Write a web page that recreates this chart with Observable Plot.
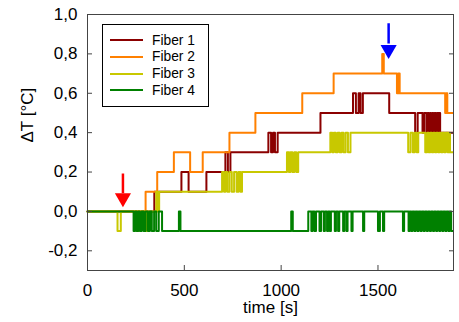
<!DOCTYPE html>
<html><head><meta charset="utf-8">
<script src="https://cdn.jsdelivr.net/npm/d3@7"></script>
<script src="https://cdn.jsdelivr.net/npm/@observablehq/plot@0.6"></script>
<style>
body{margin:0;background:#fff;}
#wrap{position:relative;width:459px;height:322px;font-family:"Liberation Sans",Arial,sans-serif;}
#legend{position:absolute;left:102px;top:24px;width:105px;height:81px;border:1px solid #000;background:#fff;}
.row{position:absolute;left:7px;height:16px;display:flex;align-items:center;font-size:13.8px;color:#000;}
.sw{width:33px;height:2px;margin-right:9px;}
</style></head><body><div id="wrap"></div>
<script>
const fiberNames = ["Fiber 1", "Fiber 2", "Fiber 3", "Fiber 4"];
const fiberColors = ["#8b0000", "#ff8000", "#c8c800", "#008000"];
const xTicks = [0, 500, 1000, 1500];
const yTicks = [-0.2, 0, 0.2, 0.4, 0.6, 0.8, 1.0];

// [time s, ΔT °C] change points (value holds until next point)
const fiber1 = [[0,0],[345,0.1],[485,0.2],[522,0.1],[614,0.2],[712,0.3],[725,0.2],[738,0.3],[934,0.4],[948,0.3],[958,0.4],[968,0.3],[982,0.4],[1203,0.5],[1371,0.6],[1386,0.5],[1400,0.6],[1410,0.5],[1422,0.6],[1558,0.5],[1692,0.4],[1705,0.5],[1730,0.4],[1738,0.5],[1750,0.4],[1756,0.5],[1762,0.4],[1768,0.5],[1774,0.4],[1780,0.5],[1786,0.4],[1792,0.5],[1798,0.4],[1804,0.5],[1812,0.4],[1816,0.5],[1821,0.4],[1888,0.4]];
const fiber2 = [[0,0],[300,0.1],[360,0.2],[446,0.3],[530,0.2],[595,0.3],[733,0.4],[867,0.5],[1109,0.6],[1271,0.7],[1522,0.8],[1530,0.7],[1598,0.6],[1605,0.7],[1612,0.6],[1847,0.5],[1852,0.6],[1858,0.5],[1888,0.5]];
const fiber3 = [[0,0],[155,-0.1],[172,0],[255,-0.1],[262,0],[300,-0.1],[306,0],[355,0.1],[362,0],[370,0.1],[695,0.2],[705,0.1],[712,0.2],[722,0.1],[733,0.2],[745,0.1],[757,0.2],[770,0.1],[780,0.2],[790,0.1],[798,0.2],[1030,0.3],[1040,0.2],[1048,0.3],[1058,0.2],[1068,0.3],[1078,0.2],[1088,0.3],[1254,0.4],[1264,0.3],[1272,0.4],[1282,0.3],[1292,0.4],[1302,0.3],[1312,0.4],[1322,0.3],[1333,0.4],[1345,0.3],[1358,0.4],[1656,0.3],[1668,0.4],[1680,0.3],[1690,0.4],[1700,0.3],[1708,0.4],[1744,0.3],[1754,0.4],[1762,0.3],[1770,0.4],[1778,0.3],[1786,0.4],[1794,0.3],[1802,0.4],[1810,0.3],[1818,0.4],[1826,0.3],[1834,0.4],[1842,0.3],[1850,0.4],[1860,0.3],[1866,0.4],[1872,0.3],[1888,0.3]];
const fiber4 = [[0,0],[238,-0.1],[246,0],[254,-0.1],[262,0],[270,-0.1],[280,0],[290,-0.1],[300,0],[312,-0.1],[322,0],[332,-0.1],[344,0],[355,-0.1],[368,0],[385,-0.1],[472,0],[480,-0.1],[1052,0],[1060,-0.1],[1140,0],[1156,-0.1],[1162,0],[1172,-0.1],[1180,0],[1198,-0.1],[1206,0],[1220,-0.1],[1226,0],[1237,-0.1],[1243,0],[1251,-0.1],[1257,0],[1277,-0.1],[1283,0],[1294,-0.1],[1300,0],[1320,-0.1],[1326,0],[1337,-0.1],[1343,0],[1363,-0.1],[1369,0],[1423,-0.1],[1429,0],[1500,-0.1],[1510,0],[1526,-0.1],[1532,0],[1629,-0.1],[1635,0],[1658,-0.1],[1664,0],[1672,-0.1],[1678,0],[1688,-0.1],[1694,0],[1704,-0.1],[1710,0],[1720,-0.1],[1726,0],[1736,-0.1],[1742,0],[1752,-0.1],[1758,0],[1768,-0.1],[1774,0],[1784,-0.1],[1790,0],[1800,-0.1],[1806,0],[1816,-0.1],[1822,0],[1832,-0.1],[1838,0],[1848,-0.1],[1854,0],[1864,-0.1],[1870,0],[1878,-0.1],[1888,-0.1]];
const fibers = [fiber1, fiber2, fiber3, fiber4];

// arrows: time, shaft top, shaft bottom (head base), head centre
const arrowTime = [183, 1555];
const arrowTop = [0.19, 0.953];
const arrowBase = [0.09, 0.85];
const arrowHead = [0.068, 0.822];
const arrowColors = ["#ff0000", "#0000ff"];

const fmtY = d => d.toFixed(1).replace(".", ",");
const frameColor = "#444";

const lineMarks = fibers.map((f, i) => Plot.line(f, {
  x: d => d[0], y: d => d[1], curve: "step-after",
  stroke: fiberColors[i], strokeWidth: 2
}));

const arrowMarks = arrowTime.map((t, i) => {
  const a = [{t, top: arrowTop[i], base: arrowBase[i], head: arrowHead[i]}];
  return [
    Plot.ruleX(a, {x: "t", y1: "top", y2: "base", stroke: arrowColors[i], strokeWidth: 2.5}),
    Plot.dot(a, {x: "t", y: "head", symbol: "triangle", rotate: 180, r: 6, fill: arrowColors[i], stroke: "none"})
  ];
});

const chart = Plot.plot({
  width: 459, height: 322,
  marginLeft: 87, marginRight: 6, marginTop: 14, marginBottom: 52,
  style: {fontFamily: '"Liberation Sans", Arial, sans-serif', fontSize: "17px", color: "#000", background: "#fff"},
  x: {domain: [0, 1890]},
  y: {domain: [-0.3, 1.0]},
  marks: [
    ...lineMarks,
    ...arrowMarks,
    Plot.axisY(yTicks, {tickSize: 0, tickPadding: 10, tickFormat: fmtY, fontSize: 17, label: null}),
    Plot.axisY(yTicks, {tickSize: 5, dx: 5, fill: "none", stroke: frameColor, label: null}),
    Plot.axisY(yTicks, {anchor: "right", tickSize: 5, dx: -5, fill: "none", stroke: frameColor, label: null}),
    Plot.axisX(xTicks, {tickSize: 0, tickPadding: 13, tickFormat: d => String(d), fontSize: 17, label: null}),
    Plot.axisX(xTicks, {tickSize: 5, dy: -5, fill: "none", stroke: frameColor, label: null}),
    Plot.text(["time [s]"], {frameAnchor: "bottom", lineAnchor: "middle", dy: 37, fontSize: 17}),
    Plot.text(["ΔT [°C]"], {frameAnchor: "left", lineAnchor: "middle", dx: -60, rotate: -90, fontSize: 17}),
    Plot.frame({stroke: frameColor})
  ]
});

const wrap = document.getElementById("wrap");
wrap.appendChild(chart);
const legend = document.createElement("div");
legend.id = "legend";
fiberNames.forEach((name, i) => {
  const row = document.createElement("div");
  row.className = "row";
  row.style.top = (7 + i * 16.8) + "px";
  const sw = document.createElement("div");
  sw.className = "sw";
  sw.style.background = fiberColors[i];
  const tx = document.createElement("span");
  tx.textContent = name;
  row.appendChild(sw); row.appendChild(tx);
  legend.appendChild(row);
});
wrap.appendChild(legend);
</script>
</body></html>
